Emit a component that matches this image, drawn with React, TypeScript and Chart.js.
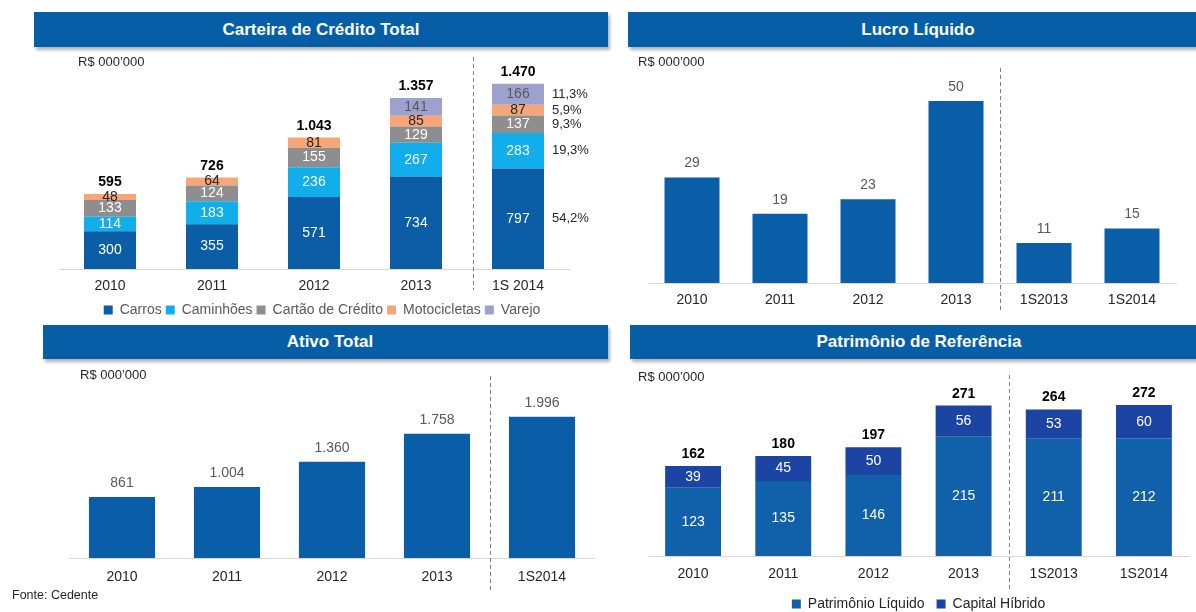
import React, { useEffect, useRef } from "react";
import { Chart, registerables } from "chart.js";

Chart.register(...registerables);

const FONT = "'Liberation Sans', Arial, Helvetica, sans-serif";

// ---------- Carteira de Crédito Total ----------
const creditYears = ["2010", "2011", "2012", "2013", "1S 2014"];
const carros = [300, 355, 571, 734, 797];
const caminhoes = [114, 183, 236, 267, 283];
const cartao = [133, 124, 155, 129, 137];
const motocicletas = [48, 64, 81, 85, 87];
const varejo = [null, null, null, 141, 166];
const creditTotals = [595, 726, 1043, 1357, 1470];
const creditShares = ["54,2%", "19,3%", "9,3%", "5,9%", "11,3%"];

// ---------- Lucro Líquido ----------
const lucroYears = ["2010", "2011", "2012", "2013", "1S2013", "1S2014"];
const lucro = [29, 19, 23, 50, 11, 15];

// ---------- Ativo Total ----------
const ativoYears = ["2010", "2011", "2012", "2013", "1S2014"];
const ativo = [861, 1004, 1360, 1758, 1996];

// ---------- Patrimônio de Referência ----------
const prYears = ["2010", "2011", "2012", "2013", "1S2013", "1S2014"];
const patrimonioLiquido = [123, 135, 146, 215, 211, 212];
const capitalHibrido = [39, 45, 50, 56, 53, 60];
const prTotals = [162, 180, 197, 271, 264, 272];

const COLORS = {
  header: "#065EA6",
  bar: "#0A5EA7",
  carros: "#0B5DA6",
  caminhoes: "#12ADEB",
  cartao: "#8E8E8E",
  motos: "#F7A678",
  varejo: "#9EA0CE",
  pl: "#1061AA",
  ch: "#1B44A3",
  axis: "#D9D9D9",
  dash: "#7F7F7F",
  text: "#262626",
  soft: "#595959",
};

const fmt = (n: number) => String(n).replace(/\B(?=(\d{3})+(?!\d))/g, ".");

type OverlayCfg = {
  segmentColors?: (string | null)[];
  segmentFont?: string;
  totals?: number[];
  totalsFont?: string;
  totalsColor?: string;
  totalsOffset?: number;
  dividerAt?: number;
  dividerTop?: number;
  dividerBottom?: number;
  shares?: string[];
  sharesX?: number;
};

function makeOverlay(cfg: OverlayCfg) {
  return {
    id: "overlay",
    afterDatasetsDraw(chart: any) {
      const ctx = chart.ctx as CanvasRenderingContext2D;
      const xs = chart.scales.x;
      ctx.save();
      // segment labels
      if (cfg.segmentColors) {
        ctx.font = cfg.segmentFont || `14px ${FONT}`;
        ctx.textAlign = "center";
        ctx.textBaseline = "middle";
        chart.data.datasets.forEach((ds: any, di: number) => {
          const color = cfg.segmentColors![di];
          if (!color) return;
          const meta = chart.getDatasetMeta(di);
          meta.data.forEach((el: any, i: number) => {
            const v = ds.data[i];
            if (v == null) return;
            const p = el.getProps(["x", "y", "base"], true);
            ctx.fillStyle = color;
            ctx.fillText(fmt(v), p.x, (p.y + p.base) / 2);
          });
        });
      }
      // totals above bars
      if (cfg.totals) {
        ctx.font = cfg.totalsFont || `bold 14px ${FONT}`;
        ctx.fillStyle = cfg.totalsColor || "#000";
        ctx.textAlign = "center";
        ctx.textBaseline = "alphabetic";
        const n = chart.data.datasets.length;
        cfg.totals.forEach((t, i) => {
          let top = Infinity;
          let x = 0;
          for (let di = 0; di < n; di++) {
            const ds = chart.data.datasets[di];
            if (ds.data[i] == null) continue;
            const el = chart.getDatasetMeta(di).data[i];
            const p = el.getProps(["x", "y"], true);
            if (p.y < top) top = p.y;
            x = p.x;
          }
          ctx.fillText(fmt(t), x, top - (cfg.totalsOffset ?? 8));
        });
      }
      // share labels (right of last bar)
      if (cfg.shares) {
        ctx.font = `13px ${FONT}`;
        ctx.fillStyle = COLORS.text;
        ctx.textAlign = "left";
        ctx.textBaseline = "middle";
        const last = chart.data.labels.length - 1;
        cfg.shares.forEach((s, di) => {
          const el = chart.getDatasetMeta(di).data[last];
          const p = el.getProps(["y", "base"], true);
          ctx.fillText(s, cfg.sharesX!, (p.y + p.base) / 2);
        });
      }
      // dashed divider
      if (cfg.dividerAt != null) {
        const x = Math.round(xs.getPixelForValue(cfg.dividerAt)) + 0.5;
        ctx.strokeStyle = COLORS.dash;
        ctx.lineWidth = 1;
        ctx.setLineDash([4, 3]);
        ctx.beginPath();
        ctx.moveTo(x, cfg.dividerTop!);
        ctx.lineTo(x, cfg.dividerBottom!);
        ctx.stroke();
      }
      ctx.restore();
    },
  };
}

function xAxis(padding: number, height: number) {
  return {
    grid: { display: false, drawTicks: false },
    border: { display: true, color: COLORS.axis, width: 1 },
    ticks: { padding, color: COLORS.text, font: { family: FONT, size: 14 } },
    afterFit: (s: any) => {
      s.height = height;
    },
  };
}

function ChartBox(props: { left: number; top: number; width: number; height: number; make: () => any }) {
  const ref = useRef<HTMLCanvasElement>(null);
  useEffect(() => {
    const chart = new Chart(ref.current as HTMLCanvasElement, props.make());
    return () => chart.destroy();
  }, []);
  return (
    <canvas
      ref={ref}
      width={props.width}
      height={props.height}
      style={{ position: "absolute", left: props.left, top: props.top, width: props.width, height: props.height }}
    />
  );
}

const creditChart = () => ({
  type: "bar",
  data: {
    labels: creditYears,
    datasets: [
      { label: "Carros", data: carros, backgroundColor: COLORS.carros },
      { label: "Caminhões", data: caminhoes, backgroundColor: COLORS.caminhoes },
      { label: "Cartão de Crédito", data: cartao, backgroundColor: COLORS.cartao },
      { label: "Motocicletas", data: motocicletas, backgroundColor: COLORS.motos },
      { label: "Varejo", data: varejo, backgroundColor: COLORS.varejo },
    ],
  },
  options: {
    animation: false,
    responsive: false,
    layout: { padding: { left: 19, right: 15, top: 20, bottom: 0 } },
    datasets: { bar: { categoryPercentage: 1, barPercentage: 0.51, borderWidth: 0 } },
    plugins: {
      tooltip: { enabled: false },
      legend: {
        display: true,
        position: "bottom",
        labels: { boxWidth: 9, boxHeight: 9, padding: 4, color: COLORS.soft, font: { family: FONT, size: 14 } },
      },
    },
    scales: {
      x: { stacked: true, ...xAxis(9, 30) },
      y: { stacked: true, display: false, min: 0, max: 1579 },
      pad: {
        type: "linear",
        position: "right",
        display: true,
        ticks: { display: false },
        grid: { display: false, drawTicks: false },
        border: { display: false },
        afterFit: (s: any) => {
          s.width = 16;
        },
      },
    },
  },
  plugins: [
    makeOverlay({
      segmentColors: ["#ffffff", "#ffffff", "#ffffff", COLORS.text, COLORS.soft],
      totals: creditTotals,
      totalsOffset: 8,
      shares: creditShares,
      sharesX: 512,
      dividerAt: 3.56,
      dividerTop: 7,
      dividerBottom: 240,
    }),
  ],
});

const lucroChart = () => ({
  type: "bar",
  data: {
    labels: lucroYears,
    datasets: [{ label: "Lucro Líquido", data: lucro, backgroundColor: COLORS.bar }],
  },
  options: {
    animation: false,
    responsive: false,
    layout: { padding: { left: 20, right: 20, top: 35, bottom: 0 } },
    datasets: { bar: { categoryPercentage: 1, barPercentage: 0.625, borderWidth: 0 } },
    plugins: { tooltip: { enabled: false }, legend: { display: false } },
    scales: {
      x: xAxis(9, 30),
      y: { display: false, min: 0, max: 54.4 },
    },
  },
  plugins: [
    makeOverlay({
      totals: lucro,
      totalsFont: `14px ${FONT}`,
      totalsColor: COLORS.soft,
      totalsOffset: 10,
      dividerAt: 3.5,
      dividerTop: 18,
      dividerBottom: 260,
    }),
  ],
});

const ativoChart = () => ({
  type: "bar",
  data: {
    labels: ativoYears,
    datasets: [{ label: "Ativo Total", data: ativo, backgroundColor: COLORS.bar }],
  },
  options: {
    animation: false,
    responsive: false,
    layout: { padding: { left: 29.5, right: 15.5, top: 30, bottom: 7 } },
    datasets: { bar: { categoryPercentage: 1, barPercentage: 0.63, borderWidth: 0 } },
    plugins: { tooltip: { enabled: false }, legend: { display: false } },
    scales: {
      x: xAxis(11, 30),
      y: { display: false, min: 0, max: 2305 },
    },
  },
  plugins: [
    makeOverlay({
      totals: ativo,
      totalsFont: `14px ${FONT}`,
      totalsColor: COLORS.soft,
      totalsOffset: 10,
      dividerAt: 3.5,
      dividerTop: 11,
      dividerBottom: 227,
    }),
  ],
});

const prChart = () => ({
  type: "bar",
  data: {
    labels: prYears,
    datasets: [
      { label: "Patrimônio Líquido", data: patrimonioLiquido, backgroundColor: COLORS.pl },
      { label: "Capital Híbrido", data: capitalHibrido, backgroundColor: COLORS.ch },
    ],
  },
  options: {
    animation: false,
    responsive: false,
    layout: { padding: { left: 18, right: 7, top: 30, bottom: 0 } },
    datasets: { bar: { categoryPercentage: 1, barPercentage: 0.62, borderWidth: 0 } },
    plugins: {
      tooltip: { enabled: false },
      legend: {
        display: true,
        position: "bottom",
        labels: { boxWidth: 9, boxHeight: 9, padding: 12, color: COLORS.text, font: { family: FONT, size: 14 } },
      },
    },
    scales: {
      x: { stacked: true, ...xAxis(10, 29) },
      y: { stacked: true, display: false, min: 0, max: 290 },
    },
  },
  plugins: [
    makeOverlay({
      segmentColors: ["#ffffff", "#ffffff"],
      totals: prTotals,
      totalsOffset: 8,
      dividerAt: 3.5,
      dividerTop: 10,
      dividerBottom: 227,
    }),
  ],
});

function Header(props: { left: number; top: number; width: number; height: number; text: string; shift?: number }) {
  return (
    <div
      style={{
        position: "absolute",
        left: props.left,
        top: props.top,
        width: props.width,
        height: props.height,
        boxSizing: "border-box",
        paddingLeft: props.shift || 0,
        background: COLORS.header,
        color: "#fff",
        font: `bold 17px ${FONT}`,
        lineHeight: `${props.height}px`,
        textAlign: "center",
        boxShadow: "2px 3px 3px rgba(0,0,0,0.3)",
      }}
    >
      {props.text}
    </div>
  );
}

function Note(props: { left: number; cy: number; text: string; size?: number }) {
  return (
    <div
      style={{
        position: "absolute",
        left: props.left,
        top: props.cy - 8,
        height: 16,
        lineHeight: "16px",
        font: `${props.size || 13}px ${FONT}`,
        color: COLORS.text,
        whiteSpace: "nowrap",
      }}
    >
      {props.text}
    </div>
  );
}

export default function App() {
  return (
    <div
      style={{
        position: "fixed",
        left: 0,
        top: 0,
        width: 1196,
        height: 612,
        overflow: "hidden",
        background: "#fff",
        fontFamily: FONT,
      }}
    >
      <Header left={34} top={12} width={574} height={35} text="Carteira de Crédito Total" />
      <Header left={628} top={12} width={580} height={35} text="Lucro Líquido" />
      <Header left={43} top={325} width={565} height={34} text="Ativo Total" shift={9} />
      <Header left={630} top={325} width={578} height={34} text="Patrimônio de Referência" />

      <ChartBox left={40} top={50} width={560} height={277} make={creditChart} />
      <ChartBox left={628} top={50} width={568} height={263} make={lucroChart} />
      <ChartBox left={40} top={365} width={570} height={230} make={ativoChart} />
      <ChartBox left={630} top={365} width={566} height={256} make={prChart} />

      <Note left={78} cy={62} text="R$ 000’000" />
      <Note left={638} cy={62} text="R$ 000’000" />
      <Note left={80} cy={375} text="R$ 000’000" />
      <Note left={638} cy={377} text="R$ 000’000" />
      <Note left={12} cy={596} text="Fonte: Cedente" size={12.5} />
    </div>
  );
}
